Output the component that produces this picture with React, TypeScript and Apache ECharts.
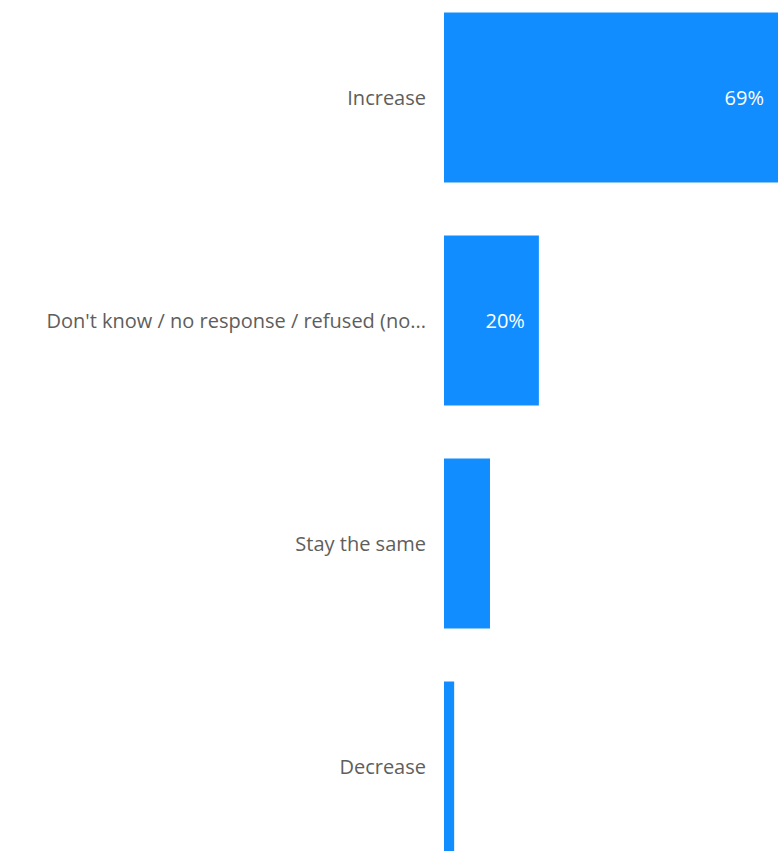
import React, { useEffect, useRef } from "react";
import * as echarts from "echarts";

const categories = [
  "Increase",
  "Don't know / no response / refused (no...",
  "Stay the same",
  "Decrease",
];
const values = [69, 19.6, 9.5, 2.1];
const showLabel = [true, true, false, false];

export default function App() {
  const ref = useRef<HTMLDivElement>(null);
  useEffect(() => {
    if (!ref.current) return;
    const chart = echarts.init(ref.current, undefined, { renderer: "svg" });
    const font = "'Segoe UI', 'Open Sans', sans-serif";
    chart.setOption({
      animation: false,
      grid: { left: 444, right: 3, top: 0, bottom: 0, containLabel: false },
      xAxis: {
        type: "value",
        min: 0,
        max: 69,
        show: false,
      },
      yAxis: {
        type: "category",
        inverse: true,
        data: categories,
        axisLine: { show: false },
        axisTick: { show: false },
        splitLine: { show: false },
        axisLabel: {
          margin: 18,
          color: "#605E5C",
          fontSize: 20,
          fontFamily: font,
          padding: [5, 0, 0, 0],
        },
      },
      series: [
        {
          type: "bar",
          barCategoryGap: "23.8%",
          data: values.map((v, i) => ({
            value: v,
            label: { show: showLabel[i] },
          })),
          itemStyle: { color: "#118DFF" },
          label: {
            position: "insideRight",
            distance: 14,
            color: "#FFFFFF",
            fontSize: 20,
            fontFamily: font,
            formatter: (p: any) => `${Math.round(p.value)}%`,
          },
        },
      ],
    });
    return () => chart.dispose();
  }, []);
  return (
    <div
      ref={ref}
      style={{ position: "absolute", left: 0, top: -14, width: 781, height: 892 }}
    />
  );
}
